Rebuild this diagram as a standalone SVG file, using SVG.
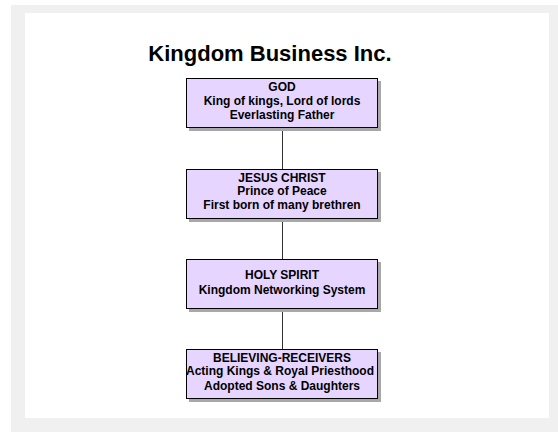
<svg xmlns="http://www.w3.org/2000/svg" width="558" height="432" viewBox="0 0 558 432">
<style>
.box{fill:#e5d5ff;stroke:#000;stroke-width:1}
.shadow{fill:#a8a8a8}
.t{font-family:"Liberation Sans",Arial,sans-serif;font-weight:bold;font-size:12px;fill:#000;text-anchor:middle}
.title{font-family:"Liberation Sans",Arial,sans-serif;font-weight:bold;font-size:22px;fill:#000;text-anchor:middle}
.conn{stroke:#333;stroke-width:1;fill:none}
</style>
<rect x="0" y="0" width="558" height="432" fill="#fff"/>
<rect x="11" y="5" width="547" height="427" fill="#f0f0f0"/>
<rect x="25" y="13" width="524" height="405" fill="#fff"/>
<text class="title" x="270" y="61">Kingdom Business Inc.</text>
<g id="connectors">
<line class="conn" x1="282.5" y1="128" x2="282.5" y2="169"/>
<line class="conn" x1="282.5" y1="219" x2="282.5" y2="259"/>
<line class="conn" x1="282.5" y1="309" x2="282.5" y2="349"/>
</g>
<g id="god">
<rect class="shadow" x="189" y="81" width="192" height="50"/>
<rect class="box" x="186.5" y="78.5" width="191" height="49"/>
<text class="t" x="282" y="91">GOD</text>
<text class="t" x="282" y="105">King of kings, Lord of lords</text>
<text class="t" x="282" y="118.5">Everlasting Father</text>
</g>
<g id="jesus">
<rect class="shadow" x="189" y="172" width="192" height="50"/>
<rect class="box" x="186.5" y="169.5" width="191" height="49"/>
<text class="t" x="282" y="181.5">JESUS CHRIST</text>
<text class="t" x="282" y="195">Prince of Peace</text>
<text class="t" x="282" y="209">First born of many brethren</text>
</g>
<g id="holyspirit">
<rect class="shadow" x="189" y="262" width="192" height="50"/>
<rect class="box" x="186.5" y="259.5" width="191" height="49"/>
<text class="t" x="282" y="278.5">HOLY SPIRIT</text>
<text class="t" x="282" y="293.5">Kingdom Networking System</text>
</g>
<g id="believers">
<rect class="shadow" x="189" y="352" width="192" height="50"/>
<rect class="box" x="186.5" y="349.5" width="191" height="49"/>
<text class="t" x="282" y="361.5">BELIEVING-RECEIVERS</text>
<text class="t" x="280" y="375">Acting Kings &amp; Royal Priesthood</text>
<text class="t" x="282" y="389.5">Adopted Sons &amp; Daughters</text>
</g>
</svg>
